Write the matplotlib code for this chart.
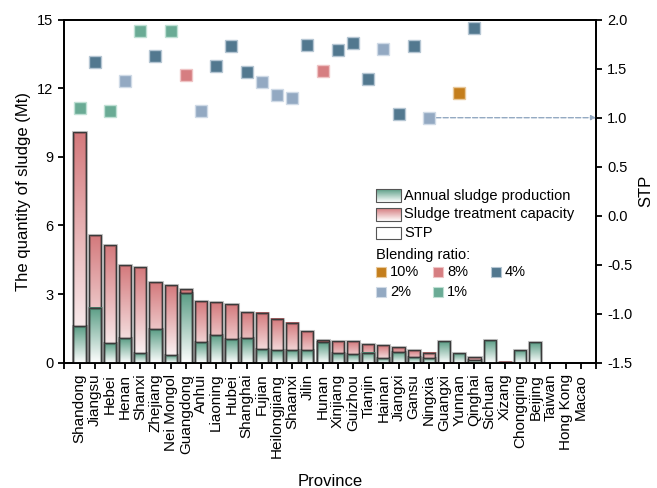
import numpy as np
import matplotlib
matplotlib.use("Agg")
import matplotlib.pyplot as plt
from matplotlib.colors import LinearSegmentedColormap
from matplotlib.patches import Rectangle

plt.rcParams['font.family'] = ['Liberation Sans', 'DejaVu Sans']
plt.rcParams['axes.unicode_minus'] = False

provinces = ['Shandong', 'Jiangsu', 'Hebei', 'Henan', 'Shanxi', 'Zhejiang', 'Nei Mongol',
             'Guangdong', 'Anhui', 'Liaoning', 'Hubei', 'Shanghai', 'Fujian', 'Heilongjiang',
             'Shaanxi', 'Jilin', 'Hunan', 'Xinjiang', 'Guizhou', 'Tianjin', 'Hainan', 'Jiangxi',
             'Gansu', 'Ningxia', 'Guangxi', 'Yunnan', 'Qinghai', 'Sichuan', 'Xizang',
             'Chongqing', 'Beijing', 'Taiwan', 'Hong Kong', 'Macao']

# treatment capacity (Mt)
capacity = [10.07, 5.57, 5.13, 4.26, 4.17, 3.54, 3.38, 3.21, 2.70, 2.64, 2.58, 2.23, 2.19,
            1.93, 1.75, 1.39, 0.99, 0.96, 0.93, 0.83, 0.76, 0.67, 0.56, 0.44, 0.0, 0.0,
            0.25, 0.0, 0.05, 0.0, 0.0, 0.0, 0.0, 0.0]
# annual sludge production (Mt)
production = [1.59, 2.41, 0.85, 1.06, 0.42, 1.47, 0.34, 3.05, 0.89, 1.20, 1.02, 1.06, 0.58,
              0.56, 0.56, 0.55, 0.89, 0.41, 0.38, 0.44, 0.20, 0.45, 0.25, 0.20, 0.93, 0.42,
              0.10, 0.98, 0.0, 0.54, 0.90, 0.0, 0.0, 0.0]
# STP values and blending ratio, None where there is no point
stp = [1.10, 1.57, 1.07, 1.37, 1.88, 1.63, 1.88, 1.44, 1.065, 1.53, 1.73, 1.47, 1.36,
       1.23, 1.20, 1.74, 1.48, 1.69, 1.76, 1.40, 1.70, 1.035, 1.73, 1.0, None, 1.25,
       1.92, None, None, None, None, None, None, None]
ratio = ['1%', '4%', '1%', '2%', '1%', '4%', '1%', '8%', '2%', '4%', '4%', '4%', '2%',
         '2%', '2%', '4%', '8%', '4%', '4%', '4%', '2%', '4%', '4%', '2%', None, '10%',
         '4%', None, None, None, None, None, None, None]

ratio_colors = {'10%': '#c47e1c', '8%': '#d67e81', '4%': '#52788f',
                '2%': '#93a9c2', '1%': '#6aab95'}
ratio_edges = {'10%': '#e8c89a', '8%': '#efc4c5', '4%': '#b5c6d3',
               '2%': '#cfdae6', '1%': '#bfe0d4'}
red = '#d4797c'
green = '#5a9d85'

fig = plt.figure(figsize=(6.57, 4.88), dpi=100)
ax = fig.add_axes([0.0979, 0.2568, 0.8093, 0.7028])
ax2 = ax.twinx()

grad = np.linspace(0, 1, 256).reshape(-1, 1)


def gradient_bar(x, h, color, z, width=0.8):
    if h <= 0:
        return
    cmap = LinearSegmentedColormap.from_list('g', ['white', color])
    ax.imshow(grad, extent=(x - width / 2, x + width / 2, 0, h), origin='lower',
              cmap=cmap, aspect='auto', zorder=z, interpolation='bilinear')
    ax.add_patch(Rectangle((x - width / 2, 0), width, h, fc='none',
                           ec=(0, 0, 0, 0.22), lw=2.2, zorder=z + 0.05))
    ax.add_patch(Rectangle((x - width / 2, 0), width, h, fc='none',
                           ec='#3a3a3a', lw=0.9, zorder=z + 0.1))


for i, (c, p) in enumerate(zip(capacity, production)):
    gradient_bar(i, c, red, 2)
    gradient_bar(i, p, green, 3)

ax.set_xlim(-1, 34)
ax.set_ylim(0, 15)
ax.set_yticks([0, 3, 6, 9, 12, 15])
ax.set_xticks(range(-1, 35))
ax.set_xticklabels([''] + provinces + [''], rotation=90)
ax.set_ylabel('The quantity of sludge (Mt)', fontsize=12)
ax.set_xlabel('Province', fontsize=12, labelpad=12)

# STP markers on the right axis
for i, (s, r) in enumerate(zip(stp, ratio)):
    if s is None:
        continue
    ax2.plot(i, s, 's', ms=9.2, color=ratio_colors[r], mec=ratio_edges[r], mew=1.0,
             zorder=5)
ax2.annotate('', xy=(34, 1.0), xytext=(23.45, 1.0),
             arrowprops=dict(arrowstyle='-|>', color='#93a9c2', lw=1.0, ls='--',
                             mutation_scale=7, shrinkA=0, shrinkB=0))
ax2.set_ylim(-1.5, 2.0)
ax2.set_yticks(np.arange(-1.5, 2.01, 0.5))
ax2.set_yticklabels(['%.1f' % v for v in np.arange(-1.5, 2.01, 0.5)])
ax2.set_ylabel('STP', fontsize=12, labelpad=4)

for a in (ax, ax2):
    for sp in a.spines.values():
        sp.set_linewidth(1.3)
    a.tick_params(direction='out', length=4.5, width=1.3, labelsize=10.5)
ax.tick_params(axis='x', labelsize=11)

# legend drawn in axes coordinates
tr = ax.transAxes
lx, lw_, lh = 0.586, 0.047, 0.037
for yb, col, label in [(0.4686, green, 'Annual sludge production'),
                       (0.414, red, 'Sludge treatment capacity'),
                       (0.360, None, 'STP')]:
    if col is not None:
        cmap = LinearSegmentedColormap.from_list('g', ['white', col])
        ax.imshow(grad, extent=(lx, lx + lw_, yb, yb + lh), origin='lower', cmap=cmap,
                  aspect='auto', transform=tr, zorder=6)
    ax.add_patch(Rectangle((lx, yb), lw_, lh, transform=tr, fc='none',
                           ec='#555555', lw=0.8, zorder=6.1))
    ax.text(0.639, yb + lh / 2, label, transform=tr, fontsize=10.5, va='center', zorder=7)

ax.text(lx, 0.314, 'Blending ratio:', transform=tr, fontsize=10.5, va='center')
legend_items = [('10%', 0.596, 0.265), ('8%', 0.703, 0.265), ('4%', 0.811, 0.265),
                ('2%', 0.596, 0.207), ('1%', 0.703, 0.207)]
for r, x, y in legend_items:
    ax.plot(x, y, 's', ms=7.4, color=ratio_colors[r], mec=ratio_edges[r], mew=0.8,
            transform=tr, clip_on=False, zorder=7)
    ax.text(x + 0.017, y, r, transform=tr, fontsize=10.5, va='center')

ax.set_xlim(-1, 34)
ax.set_ylim(0, 15)

fig.savefig('out.png', dpi=100)
